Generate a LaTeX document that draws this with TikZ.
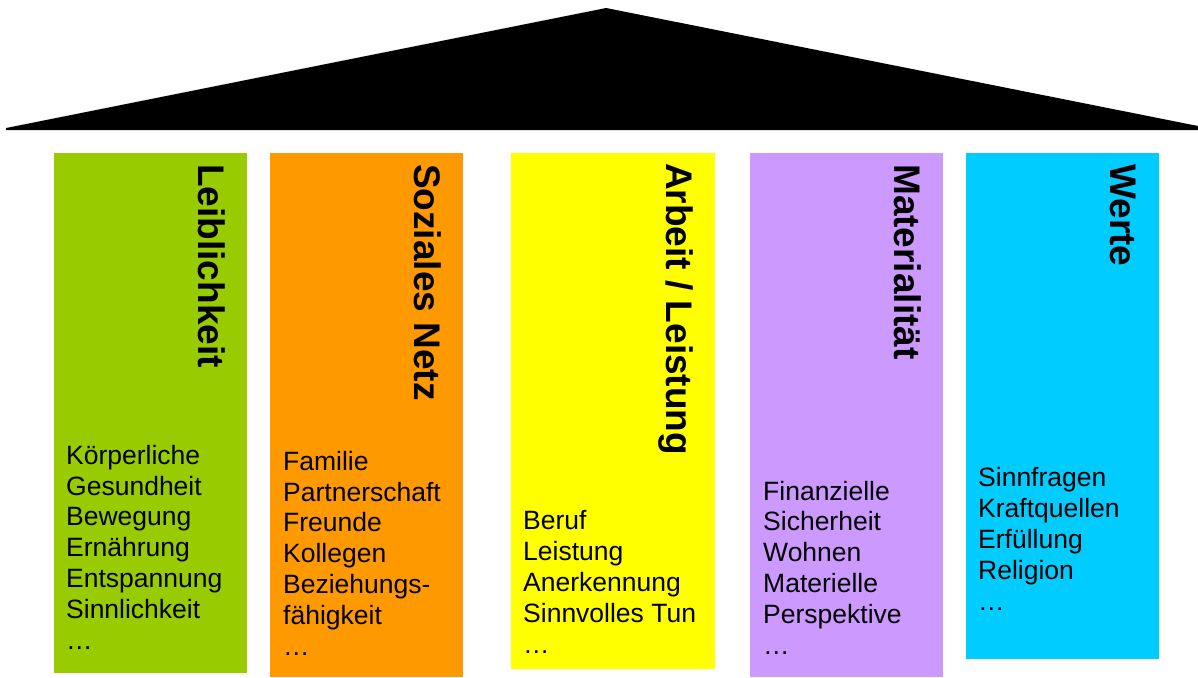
\documentclass[tikz,border=0pt]{standalone}
\usepackage{fontspec}
\setmainfont{Liberation Sans}
\definecolor{cgreen}{HTML}{99CC00}
\definecolor{corange}{HTML}{FF9900}
\definecolor{cyellow}{HTML}{FFFF00}
\definecolor{cpurple}{HTML}{CC99FF}
\definecolor{ccyan}{HTML}{00CCFF}
\begin{document}
\begin{tikzpicture}[x=1pt,y=-1pt,
  pillar/.style={draw=none,inner sep=0pt,outer sep=0pt,anchor=north west},
  ptitle/.style={rotate=-90,anchor=base west,inner sep=0pt,font=\fontsize{37}{40}\selectfont\bfseries},
  pbody/.style={anchor=base west,align=left,inner sep=0pt,font=\fontsize{26.5}{30.8}\selectfont}]
\useasboundingbox (0,0) rectangle (1198,677);
% roof
\fill[black] (6,128) -- (606,8) -- (1198,126) -- (1198,130) -- (6,130) -- cycle;
% pillars
\node[pillar,fill=cgreen,minimum width=193pt,minimum height=520pt] (p1) at (54,153) {};
\node[pillar,fill=corange,minimum width=193pt,minimum height=524pt] (p2) at (270,153) {};
\node[pillar,fill=cyellow,minimum width=204pt,minimum height=516pt] (p3) at (511,153) {};
\node[pillar,fill=cpurple,minimum width=193pt,minimum height=524pt] (p4) at (750,153) {};
\node[pillar,fill=ccyan,minimum width=193pt,minimum height=506pt] (p5) at (966,153) {};
% titles
\node[ptitle] (t1) at (198,164) {Leiblichkeit};
\node[ptitle] (t2) at (414,164) {Soziales Netz};
\node[ptitle] (t3) at (666,163) {Arbeit / Leistung};
\node[ptitle] (t4) at (894,164) {Materialität};
\node[ptitle] (t5) at (1110,164) {Werte};
% bodies (anchored at the baseline of the last line)
\node[pbody] (b1) at (66,649) {Körperliche\\Gesundheit\\Bewegung\\Ernährung\\Entspannung\\Sinnlichkeit\\…};
\node[pbody] (b2) at (283,655) {Familie\\Partnerschaft\\Freunde\\Kollegen\\Beziehungs-\\fähigkeit\\…};
\node[pbody] (b3) at (523,653) {Beruf\\Leistung\\Anerkennung\\Sinnvolles Tun\\…};
\node[pbody] (b4) at (763,654) {Finanzielle\\Sicherheit\\Wohnen\\Materielle\\Perspektive\\…};
\node[pbody] (b5) at (978,610) {Sinnfragen\\Kraftquellen\\Erfüllung\\Religion\\…};
\end{tikzpicture}
\end{document}
